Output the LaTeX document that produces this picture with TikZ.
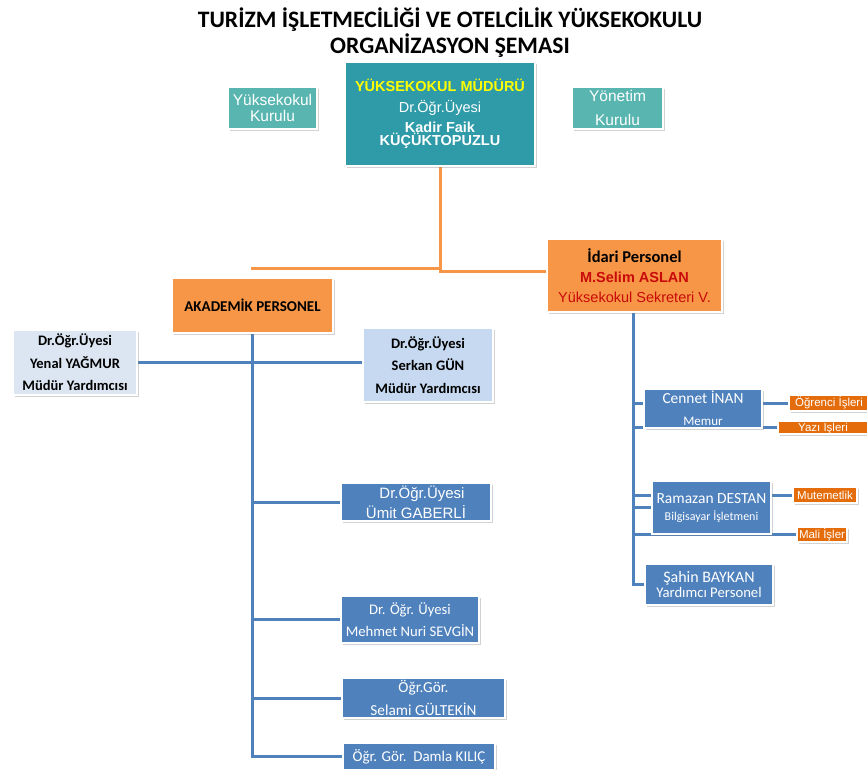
\documentclass[tikz,border=0pt]{standalone}
\usepackage{fontspec}
\setmainfont{Liberation Sans}
\newfontfamily\calfont{Carlito}
\usetikzlibrary{shadows,backgrounds}
\pgfdeclarelayer{paper}
\pgfsetlayers{paper,background,main}
\definecolor{tealA}{RGB}{47,155,168}
\definecolor{tealB}{RGB}{88,181,176}
\definecolor{orangeA}{RGB}{247,150,70}
\definecolor{orangeB}{RGB}{228,108,10}
\definecolor{blueA}{RGB}{79,129,189}
\definecolor{paleA}{RGB}{220,230,242}
\definecolor{paleB}{RGB}{198,217,241}
\definecolor{yel}{RGB}{255,255,0}
\definecolor{redA}{RGB}{200,10,10}
\newcommand\fsz[2]{\fontsize{#1}{#2}\selectfont}
\begin{document}
\begin{tikzpicture}[x=1pt,y=-1pt,
  box/.style={draw=white, line width=1.3pt, inner sep=0pt, align=center, text=white,
    drop shadow={shadow xshift=1.5pt, shadow yshift=-2pt, opacity=0.35}},
  bline/.style={draw=blueA, line width=3pt},
  oline/.style={draw=orangeA, line width=3pt}]
\begin{pgfonlayer}{paper}
\fill[white] (0,0) rectangle (867,770);
\end{pgfonlayer}
\useasboundingbox (0,0) rectangle (867,770);

% title
\node[font=\calfont\bfseries\fsz{23.6}{26}, align=center] (title) at (450,33)
  {TURİZM İŞLETMECİLİĞİ VE OTELCİLİK YÜKSEKOKULU\\ORGANİZASYON ŞEMASI};

% top level
\node[box, fill=tealA, minimum width=190, minimum height=104] (mudur) at (440,114)
  {{\bfseries\color{yel}\fsz{14.5}{14.5}YÜKSEKOKUL MÜDÜRÜ}\\[8pt]
   {\fsz{14.5}{14.5}Dr.Öğr.Üyesi}\\[5pt]
   {\bfseries\fsz{14.5}{14.5}Kadir Faik}\\
   {\bfseries\fsz{14.5}{14.5}KÜÇÜKTOPUZLU}};
\node[box, fill=tealB, minimum width=89, minimum height=42, font=\fsz{15.5}{16}] (ykurul) at (272.5,108)
  {Yüksekokul\\Kurulu};
\node[box, fill=tealB, minimum width=91, minimum height=42, font=\fsz{15.5}{22}] (ynkurul) at (617.5,108)
  {Yönetim\\[1.5pt]Kurulu};

% second level
\node[box, fill=orangeA, minimum width=175, minimum height=73, font=\fsz{14.5}{20}] (idari) at (634.5,275.5)
  {{\calfont\bfseries\color{black}\fsz{16.5}{20}İdari Personel}\\
   {\bfseries\color{redA}M.Selim ASLAN}\\
   {\color{redA}Yüksekokul Sekreteri V.}};
\node[box, fill=orangeA, minimum width=161, minimum height=55, text=black, font=\calfont\bfseries\fsz{15}{16}] (akad) at (252.5,305.5)
  {AKADEMİK PERSONEL};

% deputies
\node[box, fill=paleA, minimum width=124, minimum height=65, text=black, font=\calfont\bfseries\fsz{14.5}{22.5}] (yenal) at (75,362.5)
  {Dr.Öğr.Üyesi\\Yenal YAĞMUR\\Müdür Yardımcısı};
\node[box, fill=paleB, minimum width=130, minimum height=74, text=black, font=\calfont\bfseries\fsz{14.5}{22.5}] (serkan) at (428,365)
  {Dr.Öğr.Üyesi\\Serkan GÜN\\Müdür Yardımcısı};

% academic staff
\node[box, fill=blueA, minimum width=150, minimum height=38, font=\fsz{15}{20}] (umit) at (416,502)
  {\hspace*{12pt}Dr.Öğr.Üyesi\\Ümit GABERLİ};
\node[box, fill=blueA, minimum width=138, minimum height=47, font=\calfont\fsz{14.7}{22}] (mehmet) at (410,619.5)
  {Dr. Öğr. Üyesi\\Mehmet Nuri SEVGİN};
\node[box, fill=blueA, minimum width=163, minimum height=40, font=\calfont\fsz{15.3}{23}] (selami) at (423.5,698)
  {Öğr.Gör.\\Selami GÜLTEKİN};
\node[box, fill=blueA, minimum width=152, minimum height=27, font=\calfont\fsz{15}{18}] (damla) at (419,756.5)
  {Öğr. Gör.\ \ Damla KILIÇ};

% administrative staff
\node[box, fill=blueA, minimum width=118, minimum height=39] (cennet) at (703,408.5)
  {{\calfont\fsz{15.4}{15.4}Cennet İNAN}\\[10pt]{\calfont\fsz{13}{13}Memur}};
\node[box, fill=blueA, minimum width=119, minimum height=53] (ramazan) at (711.5,507.5)
  {{\calfont\fsz{15.5}{15.5}Ramazan DESTAN}\\[5pt]{\calfont\fsz{12}{12}Bilgisayar İşletmeni}};
\node[box, fill=blueA, minimum width=128, minimum height=41] (sahin) at (709,584.5)
  {{\calfont\fsz{16}{16}Şahin BAYKAN}\\[1pt]{\calfont\fsz{14.7}{14.7}Yardımcı Personel}};

% units
\node[box, fill=orangeB, minimum width=80, minimum height=16, font=\fsz{11.5}{12}] (ogrenci) at (829,403)
  {Öğrenci İşleri};
\node[box, fill=orangeB, minimum width=90, minimum height=13, font=\fsz{11.5}{12}] (yazi) at (823,427.5)
  {Yazı İşleri};
\node[box, fill=orangeB, minimum width=64, minimum height=16, font=\fsz{11.5}{12}] (mutemet) at (825,495)
  {Mutemetlik};
\node[box, fill=orangeB, minimum width=50, minimum height=15, font=\fsz{11.5}{12}] (mali) at (822,534.5)
  {Mali İşler};

% connectors
\begin{scope}[on background layer]
  \coordinate (oj) at (440,271);
  \coordinate (ol) at (251,268);
  \draw[oline] (mudur.south) -- (oj) -- (oj -| idari.west);
  \draw[oline] (oj |- ol) -- (ol);

  \coordinate (abot) at (akad.south |- damla.west);
  \draw[bline] (akad.south) -- (abot) -- (damla.west);
  \draw[bline] (yenal.east) -- (yenal.east -| serkan.west);
  \draw[bline] (umit.west) -- (umit.west -| akad.south);
  \draw[bline] (mehmet.west) -- (mehmet.west -| akad.south);
  \draw[bline] (selami.west) -- (selami.west -| akad.south);

  \coordinate (rv) at (633,312);
  \draw[bline] (rv) -- (rv |- sahin.west) -- (sahin.west);
  \draw[bline] (rv |- ogrenci.west) -- (ogrenci.west);
  \draw[bline] (rv |- yazi.west) -- (yazi.west);
  \draw[bline] (rv |- mutemet.west) -- (mutemet.west);
  \draw[bline] (rv |- ramazan.west) -- (ramazan.west);
  \draw[bline] (rv |- mali.west) -- (mali.west);
\end{scope}
\end{tikzpicture}
\end{document}
